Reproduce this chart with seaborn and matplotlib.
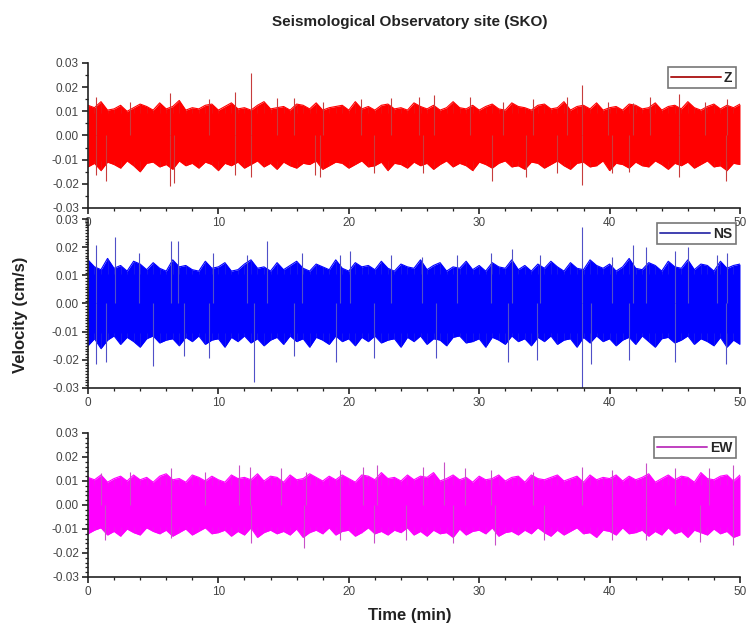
import numpy as np
import pandas as pd
import matplotlib.pyplot as plt
import seaborn as sns
from matplotlib.ticker import MultipleLocator

# solid body of each trace (cm/s): top and bottom of the dense band
body = {"Z": (0.0095, -0.0105), "NS": (0.0105, -0.0105), "EW": (0.0085, -0.009)}

# Z component: band edge peaks read every half minute, then the tall spikes
z_upper = [0.0125, 0.0115, 0.014, 0.0105, 0.011, 0.0125, 0.010, 0.0115, 0.013, 0.012,
           0.0105, 0.0135, 0.011, 0.012, 0.0145, 0.0105, 0.0115, 0.011, 0.0125, 0.013,
           0.0105, 0.012, 0.0135, 0.011, 0.0115, 0.0105, 0.0125, 0.014, 0.011, 0.0115,
           0.012, 0.0105, 0.013, 0.0125, 0.011, 0.0135, 0.0105, 0.0115, 0.012, 0.0125,
           0.0105, 0.014, 0.011, 0.012, 0.0105, 0.0125, 0.013, 0.011, 0.0115, 0.0105,
           0.0135, 0.012, 0.011, 0.0125, 0.0105, 0.0115, 0.014, 0.0115, 0.011, 0.0125,
           0.0105, 0.012, 0.013, 0.011, 0.0105, 0.0135, 0.012, 0.0115, 0.0105, 0.0125,
           0.013, 0.011, 0.0115, 0.014, 0.0105, 0.012, 0.0125, 0.011, 0.0135, 0.0105,
           0.0115, 0.012, 0.0105, 0.013, 0.0125, 0.011, 0.0115, 0.0135, 0.0105, 0.012,
           0.0125, 0.011, 0.014, 0.0115, 0.0105, 0.012, 0.013, 0.011, 0.0125, 0.0115,
           0.013]
z_lower = [-0.013, -0.0115, -0.0145, -0.011, -0.012, -0.0135, -0.0105, -0.0125, -0.015, -0.0115,
           -0.011, -0.013, -0.012, -0.014, -0.0105, -0.0125, -0.0115, -0.0135, -0.011, -0.012,
           -0.0145, -0.0115, -0.0125, -0.011, -0.0135, -0.012, -0.0105, -0.013, -0.0115, -0.014,
           -0.011, -0.0125, -0.0135, -0.0115, -0.012, -0.0105, -0.014, -0.0125, -0.011, -0.0115,
           -0.0135, -0.012, -0.0105, -0.013, -0.0125, -0.011, -0.0145, -0.0115, -0.012, -0.0135,
           -0.011, -0.0125, -0.0115, -0.014, -0.012, -0.0105, -0.013, -0.0115, -0.0125, -0.0145,
           -0.011, -0.012, -0.0135, -0.0115, -0.0105, -0.013, -0.0125, -0.014, -0.011, -0.0115,
           -0.0135, -0.012, -0.0105, -0.0125, -0.014, -0.0115, -0.011, -0.013, -0.0125, -0.0105,
           -0.0145, -0.0115, -0.012, -0.0135, -0.011, -0.0125, -0.013, -0.0105, -0.012, -0.014,
           -0.0115, -0.0125, -0.011, -0.0135, -0.012, -0.0105, -0.013, -0.0125, -0.0145, -0.0115,
           -0.012]
z_spike_t = [0.6, 3.2, 6.3, 9.3, 11.3, 12.5, 14.5, 15.8, 18.0, 20.9, 23.2, 25.4, 26.5, 29.3,
             31.8, 34.1, 36.7, 37.9, 39.9, 41.8, 43.1, 45.3, 47.3, 49.0,
             0.6, 1.4, 6.3, 6.6, 11.3, 12.5, 17.4, 17.8, 21.9, 25.7, 31.0, 33.6, 36.0,
             37.9, 40.2, 41.5, 45.3, 48.9]
z_spike_v = [0.016, 0.014, 0.0176, 0.015, 0.018, 0.026, 0.0155, 0.0155, 0.014, 0.015, 0.0155,
             0.016, 0.0169, 0.016, 0.014, 0.015, 0.016, 0.021, 0.014, 0.0135, 0.016, 0.017,
             0.014, 0.015,
             -0.0164, -0.019, -0.021, -0.0195, -0.0164, -0.017, -0.0164, -0.017, -0.0157,
             -0.0157, -0.019, -0.017, -0.0157, -0.0205, -0.0157, -0.015, -0.017, -0.019]

# NS component
ns_upper = [0.0155, 0.013, 0.012, 0.016, 0.0125, 0.0135, 0.0115, 0.015, 0.014, 0.012,
            0.0145, 0.0125, 0.0115, 0.0155, 0.013, 0.0135, 0.012, 0.0115, 0.015, 0.0125,
            0.013, 0.0145, 0.0115, 0.012, 0.014, 0.0155, 0.0125, 0.013, 0.0115, 0.0145,
            0.012, 0.0135, 0.015, 0.0125, 0.0115, 0.014, 0.013, 0.012, 0.0155, 0.0125,
            0.0115, 0.0145, 0.013, 0.0135, 0.012, 0.015, 0.0125, 0.0115, 0.014, 0.013,
            0.0125, 0.0155, 0.012, 0.0135, 0.0145, 0.0115, 0.013, 0.0125, 0.015, 0.012,
            0.0135, 0.0115, 0.0145, 0.013, 0.0125, 0.0155, 0.012, 0.0135, 0.0115, 0.014,
            0.0125, 0.015, 0.013, 0.0115, 0.0145, 0.0125, 0.012, 0.0155, 0.0135, 0.0125,
            0.014, 0.0115, 0.013, 0.016, 0.0125, 0.012, 0.0145, 0.0135, 0.0115, 0.015,
            0.013, 0.0125, 0.0155, 0.012, 0.014, 0.0135, 0.0115, 0.015, 0.0125, 0.0135,
            0.014]
ns_lower = [-0.015, -0.0125, -0.016, -0.013, -0.0115, -0.0145, -0.012, -0.0135, -0.0155, -0.0125,
            -0.0115, -0.014, -0.013, -0.0125, -0.015, -0.012, -0.0135, -0.0115, -0.0145, -0.013,
            -0.0125, -0.0155, -0.012, -0.0135, -0.0115, -0.014, -0.0125, -0.015, -0.013, -0.012,
            -0.0145, -0.0115, -0.0135, -0.0125, -0.0155, -0.012, -0.013, -0.0145, -0.0115, -0.0135,
            -0.0125, -0.015, -0.012, -0.0135, -0.0115, -0.014, -0.013, -0.0125, -0.0155, -0.012,
            -0.0135, -0.0115, -0.0145, -0.0125, -0.013, -0.015, -0.012, -0.0115, -0.014, -0.0135,
            -0.0125, -0.0155, -0.012, -0.013, -0.0145, -0.0115, -0.0135, -0.0125, -0.015, -0.012,
            -0.0135, -0.0115, -0.0145, -0.013, -0.0125, -0.0155, -0.012, -0.014, -0.0115, -0.0135,
            -0.0125, -0.015, -0.013, -0.012, -0.0145, -0.0115, -0.0135, -0.0155, -0.0125, -0.012,
            -0.014, -0.013, -0.0115, -0.0145, -0.0125, -0.0135, -0.015, -0.012, -0.0155, -0.013,
            -0.0145]
ns_spike_t = [0.6, 2.1, 3.9, 6.4, 6.9, 9.6, 12.2, 13.7, 16.4, 19.3, 20.1, 23.2, 25.6, 28.3,
              30.9, 32.5, 34.7, 37.9, 40.2, 41.8, 42.8, 45.0, 46.0, 48.2, 49.0,
              0.6, 1.4, 5.0, 7.4, 9.3, 12.7, 15.8, 19.0, 21.9, 26.7, 32.2, 34.4, 37.9,
              38.6, 41.5, 45.0, 48.9]
ns_spike_v = [0.0208, 0.0237, 0.018, 0.0223, 0.0223, 0.018, 0.0173, 0.0223, 0.018, 0.0173,
              0.0187, 0.0173, 0.0166, 0.0173, 0.018, 0.0194, 0.0173, 0.0272, 0.0166, 0.0208,
              0.0201, 0.0187, 0.0201, 0.0173, 0.018,
              -0.0214, -0.0207, -0.0221, -0.0186, -0.0193, -0.0277, -0.0186, -0.0207, -0.0193,
              -0.0193, -0.0207, -0.02, -0.0301, -0.0214, -0.02, -0.0207, -0.0214]

# EW component
ew_upper = [0.0115, 0.0105, 0.0125, 0.0095, 0.011, 0.012, 0.010, 0.0125, 0.0105, 0.0115,
            0.0095, 0.012, 0.013, 0.0105, 0.011, 0.0095, 0.0125, 0.0115, 0.010, 0.012,
            0.0105, 0.0095, 0.0125, 0.011, 0.0115, 0.0105, 0.013, 0.010, 0.012, 0.0115,
            0.0095, 0.0125, 0.0105, 0.011, 0.013, 0.0115, 0.010, 0.012, 0.0105, 0.0125,
            0.011, 0.0095, 0.0125, 0.012, 0.0105, 0.0135, 0.011, 0.0115, 0.010, 0.0125,
            0.0105, 0.012, 0.0115, 0.0135, 0.010, 0.011, 0.0125, 0.0105, 0.0115, 0.0095,
            0.012, 0.0105, 0.011, 0.0125, 0.010, 0.0115, 0.012, 0.0095, 0.0125, 0.011,
            0.0105, 0.0115, 0.0125, 0.010, 0.011, 0.012, 0.0095, 0.0125, 0.0105, 0.0115,
            0.011, 0.0125, 0.010, 0.012, 0.0105, 0.0115, 0.013, 0.0095, 0.011, 0.0125,
            0.0105, 0.012, 0.0115, 0.0095, 0.0135, 0.011, 0.0105, 0.012, 0.0125, 0.010,
            0.0125]
ew_lower = [-0.012, -0.0105, -0.0095, -0.0125, -0.011, -0.013, -0.010, -0.0115, -0.0125, -0.0095,
            -0.011, -0.012, -0.0105, -0.013, -0.0115, -0.010, -0.0125, -0.011, -0.0095, -0.012,
            -0.0115, -0.0105, -0.013, -0.011, -0.0125, -0.0095, -0.0135, -0.0115, -0.0105, -0.012,
            -0.011, -0.0125, -0.010, -0.0135, -0.0115, -0.0105, -0.012, -0.0095, -0.0125, -0.011,
            -0.0105, -0.013, -0.0115, -0.0095, -0.012, -0.011, -0.0125, -0.0105, -0.0115, -0.0095,
            -0.0125, -0.011, -0.013, -0.0105, -0.012, -0.0115, -0.0135, -0.010, -0.0125, -0.011,
            -0.0105, -0.012, -0.0095, -0.013, -0.0115, -0.011, -0.0125, -0.0105, -0.012, -0.0095,
            -0.0115, -0.013, -0.0105, -0.0125, -0.011, -0.0095, -0.012, -0.0115, -0.0135, -0.0105,
            -0.011, -0.0125, -0.0095, -0.012, -0.0115, -0.0105, -0.013, -0.011, -0.0125, -0.0095,
            -0.012, -0.011, -0.0135, -0.0105, -0.0115, -0.0125, -0.010, -0.012, -0.011, -0.0135,
            -0.0125]
ew_spike_t = [1.0, 3.2, 6.4, 9.0, 11.6, 12.4, 14.8, 16.7, 19.3, 21.1, 22.2, 25.7, 27.3, 28.9,
              30.9, 34.1, 37.9, 40.2, 42.8, 45.0, 47.6, 49.5,
              1.3, 6.4, 12.5, 16.6, 19.3, 21.9, 24.4, 28.0, 31.2, 35.0, 40.2, 42.8, 46.9, 49.5]
ew_spike_v = [0.0132, 0.0139, 0.0153, 0.0139, 0.0167, 0.016, 0.0153, 0.0139, 0.0146, 0.016,
              0.0167, 0.016, 0.018, 0.0153, 0.0146, 0.0139, 0.016, 0.0146, 0.0174, 0.0153,
              0.0153, 0.0167,
              -0.0146, -0.0139, -0.016, -0.018, -0.0146, -0.016, -0.0146, -0.016, -0.0167,
              -0.0146, -0.0146, -0.0146, -0.0153, -0.0167]

components = ["Z", "NS", "EW"]
colors = {"Z": "#ff0000", "NS": "#0000ff", "EW": "#ff00ff"}
spike_colors = {"Z": "#c83c3c", "NS": "#5050c8", "EW": "#c850c8"}
legend_colors = {"Z": "#b02020", "NS": "#4040b0", "EW": "#c040c0"}

data = {
    "Z": (z_upper, z_lower, z_spike_t, z_spike_v),
    "NS": (ns_upper, ns_lower, ns_spike_t, ns_spike_v),
    "EW": (ew_upper, ew_lower, ew_spike_t, ew_spike_v),
}

sns.set_theme(style="ticks")
plt.rcParams["font.family"] = ["Liberation Sans", "DejaVu Sans"]

fig = plt.figure(figsize=(7.48, 6.37), dpi=100)
positions = {
    "Z": [0.1176, 0.6735, 0.8717, 0.2276],
    "NS": [0.1176, 0.3909, 0.8717, 0.2653],
    "EW": [0.1176, 0.0942, 0.8717, 0.2261],
}
y_minor = {"Z": 0.005, "NS": 0.001, "EW": 0.002}

for comp in components:
    upper, lower, sp_t, sp_v = data[comp]
    top, bottom = body[comp]
    ax = fig.add_axes(positions[comp])
    ax.patch.set_visible(False)
    # half-minute readings over the 50 minute record
    peaks = pd.DataFrame({"t": np.linspace(0, 50, len(upper)), "upper": upper, "lower": lower})

    # jagged band, darker tips of the half-minute peaks, then the tall spikes
    ax.fill_between(peaks["t"], peaks["lower"], peaks["upper"], color=colors[comp], lw=0)
    sns.lineplot(data=peaks, x="t", y="upper", ax=ax, color=colors[comp], lw=0.8)
    sns.lineplot(data=peaks, x="t", y="lower", ax=ax, color=colors[comp], lw=0.8)
    ax.vlines(peaks["t"], top, peaks["upper"], color=spike_colors[comp], lw=0.5, alpha=0.4)
    ax.vlines(peaks["t"], peaks["lower"], bottom, color=spike_colors[comp], lw=0.5, alpha=0.4)
    ax.vlines(sp_t, 0, sp_v, color=spike_colors[comp], lw=0.8)

    # legend handle
    ax.plot([], [], color=legend_colors[comp], lw=1.4, label=comp)
    leg = ax.legend(loc="upper right", fancybox=False, edgecolor="#555555",
                    handlelength=3.6, borderaxespad=0.3, borderpad=0.25,
                    handletextpad=0.2, prop={"weight": "bold", "size": 10})
    leg.get_frame().set_linewidth(1.2)

    ax.set_xlim(0, 50)
    ax.set_ylim(-0.03, 0.03)
    ax.xaxis.set_major_locator(MultipleLocator(10))
    ax.xaxis.set_minor_locator(MultipleLocator(2))
    ax.yaxis.set_major_locator(MultipleLocator(0.01))
    ax.yaxis.set_minor_locator(MultipleLocator(y_minor[comp]))
    ax.yaxis.set_major_formatter(plt.FuncFormatter(lambda v, p: f"{v:.2f}"))
    ax.set_xlabel("")
    ax.set_ylabel("")
    sns.despine(ax=ax)
    for s in ["left", "bottom"]:
        ax.spines[s].set_linewidth(1.2)
        ax.spines[s].set_color("#222222")
    ax.tick_params(which="major", length=4.5, width=1.2, color="#222222",
                   labelsize=8.5, labelcolor="#444444", pad=2)
    ax.tick_params(which="minor", length=2.5, width=0.9, color="#222222")

fig.text(0.548, 0.9655, "Seismological Observatory site (SKO)", ha="center", va="center",
         fontsize=11, fontweight="bold", color="#222222")
fig.text(0.027, 0.5055, "Velocity (cm/s)", ha="center", va="center", rotation=90,
         fontsize=12, fontweight="bold", color="#222222")
fig.text(0.548, 0.0345, "Time (min)", ha="center", va="center",
         fontsize=12, fontweight="bold", color="#222222")

fig.savefig("out.png", dpi=100)
